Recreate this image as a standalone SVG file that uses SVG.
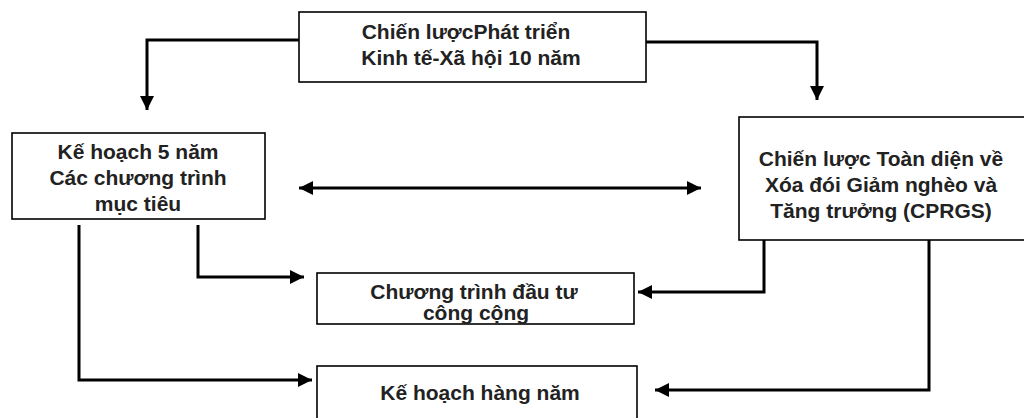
<svg xmlns="http://www.w3.org/2000/svg" width="1024" height="418" viewBox="0 0 1024 418">
  <style>
    .box { fill: #ffffff; stroke: #000000; stroke-width: 1.6; }
    .lbl { font-family: "Liberation Sans", Arial, sans-serif; font-weight: bold; font-size: 21px; fill: #222222; text-anchor: middle; }
    .link { fill: none; stroke: #000000; stroke-width: 3; }
  </style>
  <defs>
    <marker id="head" viewBox="0 0 14 14" refX="14" refY="7" markerWidth="14" markerHeight="14" markerUnits="userSpaceOnUse" orient="auto-start-reverse">
      <path d="M0,0 L14,7 L0,14 Z" fill="#000000"/>
    </marker>
  </defs>

  <rect width="1024" height="418" fill="#ffffff"/>

  <g id="connectors">
    <!-- strategy to 5-year plan -->
    <path class="link" d="M299,40 H147 V110" marker-end="url(#head)"/>
    <!-- strategy to CPRGS -->
    <path class="link" d="M646,42 H817 V100" marker-end="url(#head)"/>
    <!-- two-way link between plan and CPRGS -->
    <path class="link" d="M299,188 H701" marker-start="url(#head)" marker-end="url(#head)"/>
    <!-- plan to public investment programme -->
    <path class="link" d="M198,225 V277 H304" marker-end="url(#head)"/>
    <!-- plan to annual plan -->
    <path class="link" d="M79,225 V380 H312" marker-end="url(#head)"/>
    <!-- CPRGS to public investment programme -->
    <path class="link" d="M764,240 V292 H638" marker-end="url(#head)"/>
    <!-- CPRGS to annual plan -->
    <path class="link" d="M929,240 V390 H655" marker-end="url(#head)"/>
  </g>

  <g id="node-strategy">
    <rect class="box" x="299" y="12" width="347" height="70"/>
    <text class="lbl" x="466" y="39">Chiến lượcPhát triển</text>
    <text class="lbl" x="471" y="65">Kinh tế-Xã hội 10 năm</text>
  </g>

  <g id="node-five-year-plan">
    <rect class="box" x="12" y="133" width="253" height="86"/>
    <text class="lbl" x="138" y="159">Kế hoạch 5 năm</text>
    <text class="lbl" x="138" y="185">Các chương trình</text>
    <text class="lbl" x="138" y="211">mục tiêu</text>
  </g>

  <g id="node-cprgs">
    <rect class="box" x="739" y="117" width="300" height="123"/>
    <text class="lbl" x="881" y="166">Chiến lược Toàn diện về</text>
    <text class="lbl" x="881" y="192">Xóa đói Giảm nghèo và</text>
    <text class="lbl" x="881" y="218">Tăng trưởng (CPRGS)</text>
  </g>

  <g id="node-public-investment">
    <rect class="box" x="317" y="273" width="317" height="51"/>
    <text class="lbl" x="474" y="299">Chương trình đầu tư</text>
    <text class="lbl" x="476" y="320">công cộng</text>
  </g>

  <g id="node-annual-plan">
    <rect class="box" x="317" y="366" width="320" height="70"/>
    <text class="lbl" x="480" y="400">Kế hoạch hàng năm</text>
  </g>
</svg>
